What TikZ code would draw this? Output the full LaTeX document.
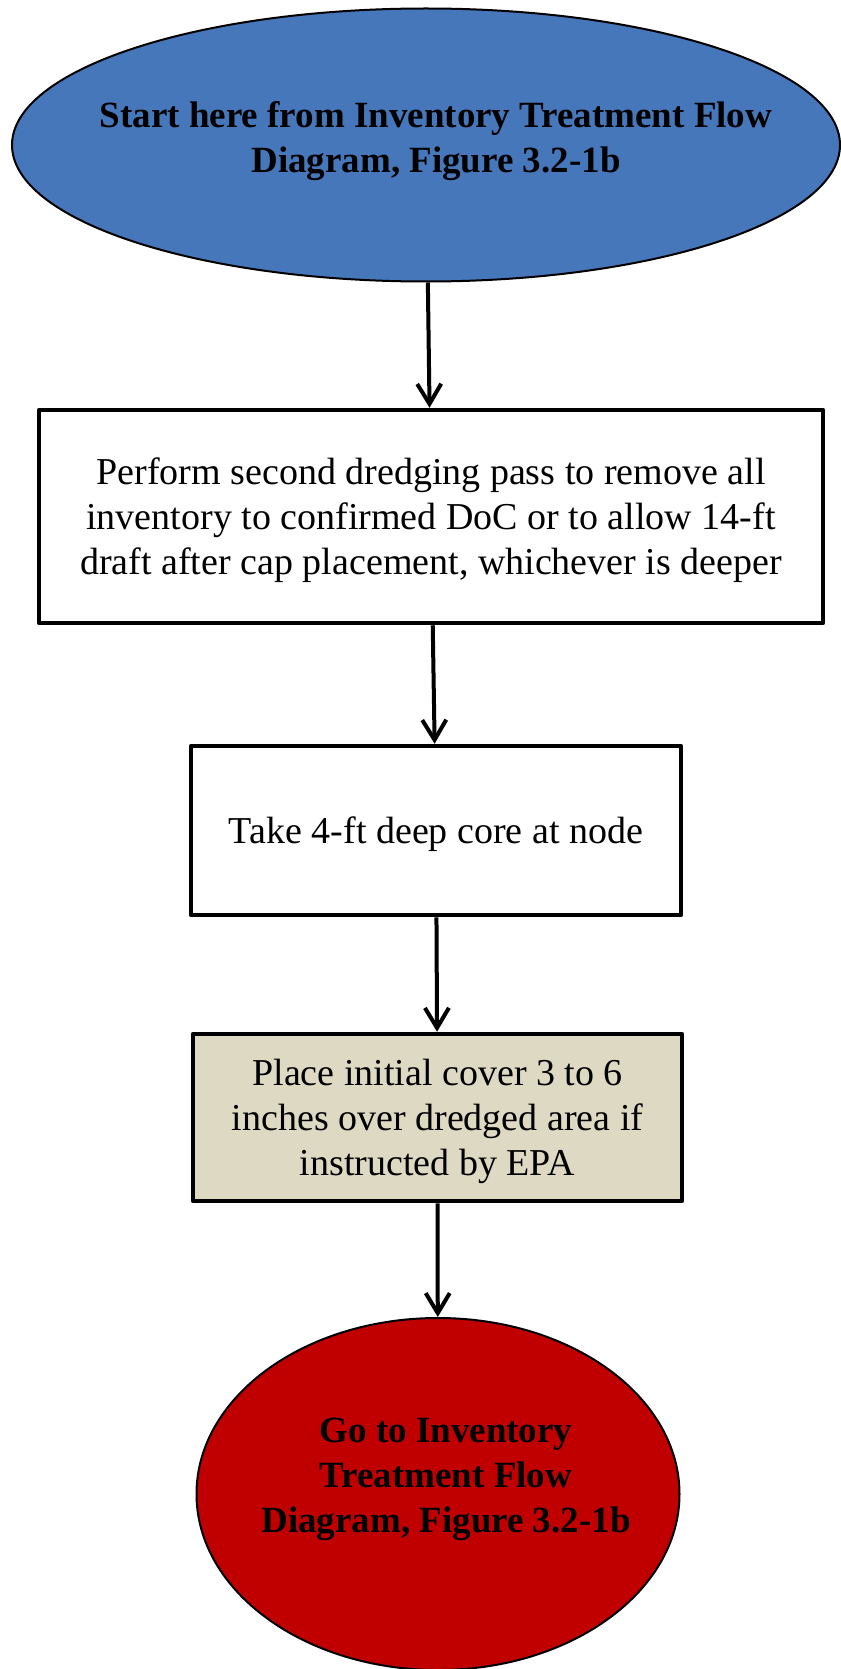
\documentclass[tikz,border=0pt]{standalone}
\usepackage{fontspec}
\setmainfont{Liberation Serif}
\usetikzlibrary{shapes.geometric,arrows.meta}
\definecolor{topblue}{HTML}{4677BB}
\definecolor{tanbox}{HTML}{DDD9C3}
\definecolor{endred}{HTML}{C00000}
\begin{document}
\begin{tikzpicture}[x=1pt,y=-1pt,
  oval/.style={ellipse, draw=black, line width=2pt, inner sep=0pt},
  stepbox/.style={rectangle, draw=black, line width=4.5pt, inner sep=0pt, align=center,
    font=\fontsize{38}{45}\selectfont, line join=round, text depth=0pt},
  ovaltext/.style={align=center, font=\fontsize{37}{45}\selectfont\bfseries, inner sep=0pt},
  flow/.style={line width=4pt, -{Straight Barb[length=20pt,width=24pt]}}]
\useasboundingbox (0,0) rectangle (840,1669);
\node[oval, fill=topblue, minimum width=828pt, minimum height=273pt] (top) at (426,145) {};
\node[ovaltext] (toptext) at (436,141) {Start here from Inventory Treatment Flow\\Diagram, Figure 3.2-1b};
\node[stepbox, fill=white, minimum width=784pt, minimum height=213pt] (b1) at (431,516.5)
  {Perform second dredging pass to remove all\\inventory to confirmed DoC or to allow 14-ft\\draft after cap placement, whichever is deeper};
\node[stepbox, fill=white, minimum width=490pt, minimum height=169pt] (b2) at (436,830.5)
  {Take 4-ft deep core at node};
\node[stepbox, fill=tanbox, minimum width=489pt, minimum height=167pt] (b3) at (437.5,1117.5)
  {Place initial cover 3 to 6\\inches over dredged area if\\instructed by EPA};
\node[oval, fill=endred, minimum width=483pt, minimum height=352pt] (end) at (438,1494) {};
\node[ovaltext] (endtext) at (446,1479) {Go to Inventory\\Treatment Flow\\Diagram, Figure 3.2-1b};
\draw[flow] (top) -- (b1);
\draw[flow] (b1) -- (b2);
\draw[flow] (b2) -- (b3);
\draw[flow] (b3) -- (end);
\end{tikzpicture}
\end{document}
